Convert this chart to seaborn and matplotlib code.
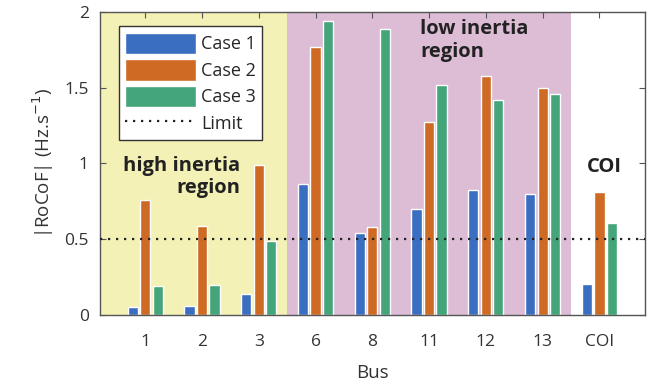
import pandas as pd
import matplotlib
matplotlib.use('Agg')
import matplotlib.pyplot as plt
import seaborn as sns

# values
buses = ['1', '2', '3', '6', '8', '11', '12', '13', 'COI']
case1 = [0.05, 0.056, 0.138, 0.865, 0.538, 0.70, 0.827, 0.80, 0.204]
case2 = [0.76, 0.589, 0.99, 1.765, 0.578, 1.276, 1.578, 1.50, 0.81]
case3 = [0.193, 0.20, 0.485, 1.94, 1.89, 1.518, 1.419, 1.459, 0.604]
cases = ['Case 1', 'Case 2', 'Case 3']
limit = 0.5

df = pd.DataFrame({
    'Bus': buses * 3,
    'RoCoF': case1 + case2 + case3,
    'Case': [c for c in cases for _ in buses],
})

sns.set_style('ticks')
plt.rcParams['font.family'] = ['Open Sans', 'DejaVu Sans']
plt.rcParams['axes.edgecolor'] = '#555555'
plt.rcParams['xtick.color'] = '#555555'
plt.rcParams['ytick.color'] = '#555555'
plt.rcParams['xtick.labelcolor'] = '#333333'
plt.rcParams['ytick.labelcolor'] = '#333333'

fig = plt.figure(figsize=(6.52, 3.83), dpi=100)
ax = fig.add_axes([0.153, 0.178, 0.836, 0.791])

# region shading
ax.axvspan(-0.8, 2.5, color='#F3F1B5', zorder=0, lw=0)
ax.axvspan(2.5, 7.5, color='#DDBDD6', zorder=0, lw=0)

palette = ['#3A6EC0', '#CF6A24', '#44A47A']
sns.barplot(data=df, x='Bus', y='RoCoF', hue='Case', order=buses,
            palette=palette, width=0.66, gap=0.18, saturation=1,
            ax=ax, zorder=2)

ax.axhline(limit, color='#222222', ls=(0, (1, 2.6)), lw=1.6, label='Limit', zorder=3)

ax.set_xlim(-0.8, 8.8)
ax.set_ylim(0, 2)
ax.set_yticks([0, 0.5, 1, 1.5, 2])
ax.set_yticklabels(['0', '0.5', '1', '1.5', '2'])
ax.tick_params(direction='in', top=True, right=True, length=4, labelsize=12.5)
ax.tick_params(axis='y', pad=8)
ax.tick_params(axis='x', pad=14)
for s in ax.spines.values():
    s.set_visible(True)
    s.set_linewidth(1.0)
ax.set_xlabel('Bus', fontsize=13.5, color='#333333', labelpad=10)
ax.set_ylabel('|RoCoF| (Hz.s$^{-1}$)', fontsize=13.5, color='#333333', labelpad=6)

handles, labels = ax.get_legend_handles_labels()
order = [labels.index(c) for c in cases] + [labels.index('Limit')]
leg = ax.legend([handles[i] for i in order], [labels[i] for i in order],
                loc='upper left', bbox_to_anchor=(0.035, 0.952), fontsize=13,
                handlelength=3.9, handleheight=1.45, labelspacing=0.28,
                handletextpad=0.3, borderpad=0.35, borderaxespad=0,
                fancybox=False, framealpha=1, edgecolor='#333333')
leg.get_frame().set_linewidth(1.0)

ax.text(1.68, 1.05, 'high inertia\nregion', ha='right', va='top',
        fontsize=14.5, fontweight='bold', color='#222222', linespacing=1.15)
ax.text(4.84, 1.95, 'low inertia\nregion', ha='left', va='top',
        fontsize=14.5, fontweight='bold', color='#222222', linespacing=1.15)
ax.text(8.09, 1.04, 'COI', ha='center', va='top',
        fontsize=14.5, fontweight='bold', color='#222222')

fig.savefig('out.png', dpi=100)
